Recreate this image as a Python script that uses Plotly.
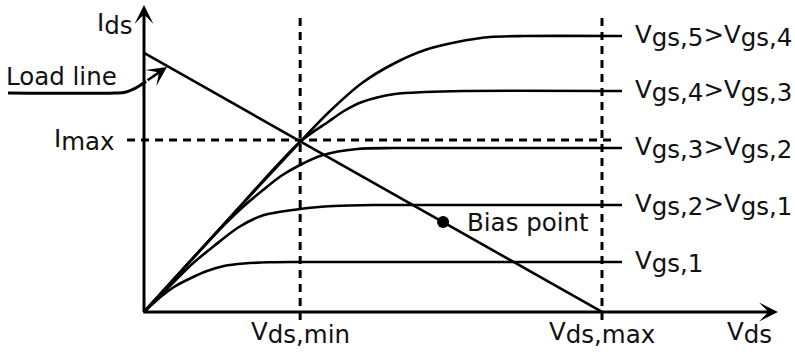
import plotly.graph_objects as go

# Operating-point sketch of a FET: output characteristics and load line.
# Vds is scaled so that Vds,max = 10, Ids so that Imax = 10.
VDS_MIN = 3.41
VDS_MAX = 10.0
I_MAX = 10.0
LOAD_I0 = 15.06          # load-line intercept on the Ids axis

vgs1_vds = [0, 0.284, 0.655, 1.026, 1.376, 1.747, 2.183, 2.729, 3.3, 10.437]
vgs1_ids = [0, 0.698, 1.453, 1.977, 2.384, 2.674, 2.820, 2.890, 2.907, 2.907]

vgs2_vds = [0, 0.437, 1.026, 1.528, 2.074, 2.620, 3.406, 4.148, 5.022, 10.437]
vgs2_ids = [0, 1.163, 2.733, 3.837, 4.942, 5.640, 5.988, 6.163, 6.221, 6.221]

vgs3_vds = [0, 0.873, 1.747, 2.183, 2.598, 2.991, 3.406, 3.908, 4.651, 5.459, 10.437]
vgs3_ids = [0, 2.558, 5.058, 6.163, 7.093, 7.907, 8.547, 9.128, 9.477, 9.535, 9.535]

vgs4_vds = [0, 1.747, 3.406, 4.017, 4.367, 4.760, 5.480, 6.135, 6.987, 10.437]
vgs4_ids = [0, 5.116, 9.884, 11.047, 11.686, 12.209, 12.674, 12.791, 12.849, 12.849]

vgs5_vds = [0, 1.747, 3.406, 4.017, 4.760, 5.480, 6.135, 6.834, 7.555, 8.297, 10.437]
vgs5_ids = [0, 5.116, 9.884, 11.570, 13.314, 14.477, 15.233, 15.698, 15.988, 16.047, 16.047]

load_vds = [0, VDS_MAX]
load_ids = [LOAD_I0, 0]

bias_vds = 6.53
bias_ids = 5.23

FONT = "DejaVu Sans"
FS = 24.5        # size of all drawn text
BASE = 16        # annotation base size; sets the subscript drop
INK = "#111111"


def big(s):
    return "<span style='font-size:%spx'>%s</span>" % (FS, s)


def sub(s):
    return "<sub>" + big(s) + "</sub>"


curve_labels = [
    big("V") + sub("gs,1"),
    big("V") + sub("gs,2") + big(">V") + sub("gs,1"),
    big("V") + sub("gs,3") + big(">V") + sub("gs,2"),
    big("V") + sub("gs,4") + big(">V") + sub("gs,3"),
    big("V") + sub("gs,5") + big(">V") + sub("gs,4"),
]
curves = [
    (vgs1_vds, vgs1_ids),
    (vgs2_vds, vgs2_ids),
    (vgs3_vds, vgs3_ids),
    (vgs4_vds, vgs4_ids),
    (vgs5_vds, vgs5_ids),
]

fig = go.Figure()

for xs, ys in curves:
    fig.add_trace(go.Scatter(x=xs, y=ys, mode="lines",
                             line=dict(color="black", width=2.6, shape="spline", smoothing=0.8),
                             hoverinfo="skip", showlegend=False))

# load line
fig.add_trace(go.Scatter(x=load_vds, y=load_ids, mode="lines",
                         line=dict(color="black", width=2.6),
                         hoverinfo="skip", showlegend=False))

# bias point
fig.add_trace(go.Scatter(x=[bias_vds], y=[bias_ids], mode="markers",
                         marker=dict(color="black", size=12),
                         hoverinfo="skip", showlegend=False))

# dashed guides: Vds,min, Vds,max and Imax
dash = dict(color="black", width=3, dash="8px,6px")
fig.add_shape(type="line", x0=VDS_MIN, x1=VDS_MIN, y0=-0.47, y1=17.27, line=dash)
fig.add_shape(type="line", x0=VDS_MAX, x1=VDS_MAX, y0=-0.47, y1=17.27, line=dash)
fig.add_shape(type="line", x0=-0.37, x1=10.24, y0=I_MAX, y1=I_MAX, line=dash)

# axes with arrow heads
for tip, tail in [((0, 17.85), (0, -0.08)), ((13.84, 0), (-0.05, 0))]:
    fig.add_annotation(x=tip[0], y=tip[1], ax=tail[0], ay=tail[1],
                       xref="x", yref="y", axref="x", ayref="y", text="",
                       showarrow=True, arrowhead=3, arrowsize=1.05, arrowwidth=3,
                       arrowcolor="black")

# "Load line" leader
fig.add_trace(go.Scatter(x=[-2.969, -0.633, -0.415, -0.240, -0.087, 0.044],
                         y=[12.733, 12.733, 12.773, 12.948, 13.169, 13.413],
                         mode="lines", line=dict(color="black", width=3, shape="spline"),
                         hoverinfo="skip", showlegend=False))
fig.add_annotation(x=0.502, y=14.244, ax=0.044, ay=13.413,
                   xref="x", yref="y", axref="x", ayref="y", text="",
                   showarrow=True, arrowhead=3, arrowsize=1.25, arrowwidth=2.6,
                   arrowcolor="black")


def label(x, y, text, xa="left", ya="middle", size=BASE):
    fig.add_annotation(x=x, y=y, xref="x", yref="y", text=text, showarrow=False,
                       xanchor=xa, yanchor=ya,
                       font=dict(family=FONT, size=size, color=INK))


for (xs, ys), txt in zip(curves, curve_labels):
    label(10.68, ys[-1], txt)

label(-3.05, 13.72, "Load line", size=FS)
label(7.01, bias_ids, "Bias point", size=FS)
label(-0.2, 16.74, big("I") + sub("ds"), xa="right")
label(-0.59, I_MAX, big("I") + sub("max"), xa="right")
label(VDS_MIN, -0.2, big("V") + sub("ds,min"), xa="center", ya="top")
label(VDS_MAX, -0.2, big("V") + sub("ds,max"), xa="center", ya="top")
label(13.23, -0.2, big("V") + sub("ds"), xa="center", ya="top")

fig.update_layout(
    width=795, height=359,
    margin=dict(l=0, r=0, t=0, b=0),
    paper_bgcolor="white", plot_bgcolor="white",
    xaxis=dict(range=[-3.144, 14.214], visible=False, fixedrange=True),
    yaxis=dict(range=[-2.733, 18.140], visible=False, fixedrange=True),
)

fig.write_html("out.html")
